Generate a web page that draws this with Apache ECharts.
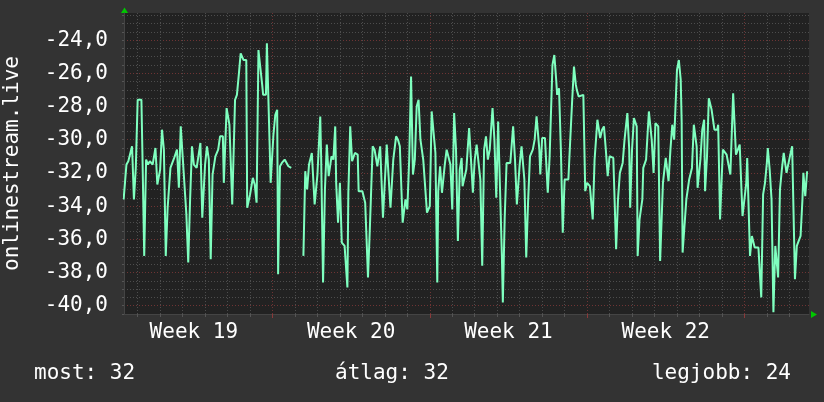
<!DOCTYPE html>
<html>
<head>
<meta charset="utf-8">
<script src="https://cdn.jsdelivr.net/npm/echarts@6/dist/echarts.min.js"></script>
<style>
  html, body { margin: 0; padding: 0; background: #333333; }
  #chart { width: 824px; height: 402px; }
</style>
</head>
<body>
<div id="chart"></div>
<script>
// hours counted from the start of week 19
var hours = [
  9, 12, 14, 18, 20, 22, 24, 28, 29, 31, 33, 35, 37, 40, 43, 45, 48, 50, 52, 54,
  56, 59, 63, 66, 68, 70, 72, 75, 76, 78, 80, 82, 84, 87, 91, 93, 96, 98, 100, 102,
  104, 107, 110, 112, 115, 116, 119, 122, 125, 128, 130, 132, 134, 137, 139, 140, 141, 144, 147, 149,
  151, 153, 155, 157, 158, 161, 162, 163, 165, 166, 169, 171, 173, 174, 176, 178, 181, 185, 188,
  194,
  201, 203, 205, 207, 210, 213, 216, 219, 220, 222, 224, 226, 228, 231, 233, 235, 236, 238, 240, 242,
  245, 248, 249, 251, 253, 256, 259, 260, 264, 267, 270, 272, 275, 277, 280, 283, 286, 290, 294, 297,
  300, 302, 304, 307, 310, 312, 314, 316, 318, 320, 322, 324, 326, 329, 333, 336, 338, 342, 344, 345,
  347, 349, 352, 354, 358, 360, 362, 364, 366, 368, 370, 371, 375, 378, 380, 382, 384, 386, 390, 392,
  394, 396, 398, 400, 403, 405, 407, 409, 411, 413, 414, 416, 418, 422, 425, 427, 429, 432, 434, 437,
  439, 441, 443, 446, 448, 450, 453, 454, 456, 459, 462, 464, 467, 469, 471, 472, 474, 476, 478, 480,
  484, 486, 488, 490, 492, 493, 495, 500, 502, 504, 507, 509, 510, 512, 515, 518, 520, 522, 524, 526,
  528, 532, 535, 537, 539, 542, 544, 547, 549, 550, 552, 554, 557, 558, 560, 563, 564, 567, 570, 573,
  575, 577, 580, 582, 585, 588, 591, 593, 595, 597, 600, 602, 604, 605, 606, 610, 613, 616, 618, 621,
  622, 625, 627, 629, 630, 632, 634, 637, 640, 643, 644, 646, 649, 653, 657, 660, 663, 667, 669, 670,
  674, 675, 678, 680, 683, 687, 690, 692, 694, 696, 697, 699, 701, 703, 705, 708, 710, 712, 714, 717,
  721, 723, 726, 728, 732, 734, 735, 737, 739
];
var values = [
  -33.6, -31.5, -31.3, -30.4, -33.6, -31.7, -27.6, -27.6, -30.6, -37.0, -31.2, -31.5, -31.3, -31.5, -30.5, -32.7, -31.8, -29.4, -30.6, -37.0,
  -34.1, -31.7, -31.1, -30.6, -32.9, -29.2, -29.3, -33.6, -34.5, -37.4, -33.6, -30.4, -31.5, -31.7, -30.2, -34.7, -31.5, -30.4, -31.2, -37.2,
  -32.1, -31.0, -30.6, -29.8, -29.8, -32.6, -28.1, -29.1, -33.9, -27.6, -27.3, -26.1, -24.8, -25.2, -25.1, -25.2, -34.1, -33.3, -32.3, -32.7,
  -33.8, -24.6, -24.7, -26.7, -27.3, -27.3, -24.2, -24.3, -30.4, -32.6, -29.7, -28.5, -28.2, -38.1, -31.6, -31.4, -31.2, -31.6, -31.7,
  null,
  -37.0, -31.9, -33.0, -31.5, -30.8, -33.9, -32.1, -28.6, -31.2, -38.6, -33.0, -30.3, -32.2, -31.0, -31.2, -29.2, -32.6, -35.0, -32.6, -36.2,
  -36.4, -38.9, -33.2, -29.2, -31.3, -30.8, -30.9, -33.1, -33.1, -33.8, -38.3, -35.3, -30.4, -30.6, -31.6, -30.4, -34.7, -30.3, -34.1, -31.2,
  -29.8, -30.0, -30.4, -35.0, -33.6, -34.2, -31.2, -26.2, -32.1, -31.2, -28.0, -27.6, -30.0, -31.2, -34.4, -34.0, -28.3, -30.8, -38.6, -33.1,
  -31.6, -33.2, -31.5, -30.6, -31.5, -34.2, -28.4, -30.6, -36.1, -31.8, -31.1, -32.8, -31.8, -29.3, -31.2, -33.2, -31.2, -30.3, -32.4, -37.6,
  -30.6, -29.8, -31.2, -30.6, -28.1, -30.0, -33.5, -28.9, -28.9, -37.0, -39.8, -34.7, -31.4, -31.4, -29.2, -31.2, -33.9, -31.5, -30.4, -32.4,
  -37.1, -33.7, -31.0, -30.6, -30.0, -28.6, -30.6, -32.1, -29.9, -29.9, -33.2, -31.0, -25.5, -24.9, -26.4, -27.3, -26.9, -30.6, -35.6, -32.4,
  -32.4, -30.0, -27.7, -25.6, -26.7, -27.0, -27.4, -27.3, -33.1, -32.6, -32.8, -32.7, -34.8, -31.2, -28.8, -29.9, -29.4, -29.2, -30.6, -32.2,
  -31.0, -31.1, -36.6, -33.6, -32.0, -31.4, -30.0, -28.4, -30.6, -34.1, -30.6, -28.7, -29.2, -37.0, -34.8, -33.6, -31.7, -31.2, -28.3, -30.0,
  -32.0, -29.0, -29.2, -37.3, -32.6, -31.1, -32.5, -30.6, -29.1, -30.0, -25.8, -25.2, -26.4, -28.9, -36.8, -33.6, -32.4, -31.7, -29.1, -30.4,
  -32.9, -31.2, -29.4, -28.8, -33.1, -31.1, -27.5, -28.2, -29.4, -29.4, -29.1, -34.8, -30.6, -30.9, -32.1, -27.2, -30.9, -30.3, -33.2, -34.6,
  -32.6, -31.1, -37.0, -35.8, -36.5, -36.5, -39.5, -33.3, -32.6, -31.4, -30.5, -31.8, -33.6, -40.4, -36.4, -38.3, -33.0, -31.8, -30.8, -32.0,
  -30.9, -30.4, -38.4, -36.4, -35.8, -33.6, -32.0, -33.4, -31.9
];

var weekNames = ['Week 19', 'Week 20', 'Week 21', 'Week 22'];
var weekMiddles = [84, 252, 420, 588];
var weekBounds = [168, 336, 504, 672];
var yLabels = [-40, -38, -36, -34, -32, -30, -28, -26, -24];
var summary = ['most: 32', 'átlag: 32', 'legjobb: 24'];

var xMin = 9.4, xMax = 741;
var yMin = -40.5, yMax = -22.37;

var dayTicks = [];
for (var d = 24; d < xMax; d += 24) dayTicks.push(d);
var halfTicks = [];
for (var v = -40.5; v <= -22.5; v += 0.5) halfTicks.push(v);

var mono = '"DejaVu Sans Mono", monospace';
var minorLine = { color: '#4d4d4d', width: 1, type: [1, 2] };
var majorLine = { color: '#6e3434', width: 1, type: [1, 2] };

var points = hours.map(function (h, i) {
  return [h, values[i] === null ? '-' : values[i]];
});

var chart = echarts.init(document.getElementById('chart'));
chart.setOption({
  backgroundColor: '#333333',
  animation: false,
  grid: {
    left: 124, top: 13, width: 685, height: 301,
    outerBoundsMode: 'none', containLabel: false,
    show: true, backgroundColor: '#222222', borderWidth: 0
  },
  xAxis: [
    {
      type: 'value', min: xMin, max: xMax,
      axisLine: { show: true, lineStyle: { color: '#444444' } },
      axisTick: { show: true, length: 3, customValues: dayTicks, lineStyle: { color: '#555555' } },
      axisLabel: {
        customValues: weekMiddles, margin: 8, color: '#ffffff',
        fontFamily: mono, fontSize: 21,
        formatter: function (val) { return weekNames[weekMiddles.indexOf(val)]; }
      },
      splitLine: { show: true, lineStyle: minorLine }
    },
    {
      type: 'value', min: xMin, max: xMax, position: 'bottom',
      axisLine: { show: false },
      axisTick: { show: true, length: 4, customValues: weekBounds, lineStyle: { color: '#8a3a3a' } },
      axisLabel: { show: false },
      splitLine: { show: true, lineStyle: majorLine }
    }
  ],
  yAxis: [
    {
      type: 'value', min: yMin, max: yMax,
      name: 'onlinestream.live', nameLocation: 'middle', nameGap: 101,
      nameTextStyle: { color: '#ffffff', fontFamily: mono, fontSize: 21 },
      axisLine: { show: true, lineStyle: { color: '#444444' } },
      axisTick: { show: true, length: 2, customValues: halfTicks, lineStyle: { color: '#555555' } },
      axisLabel: {
        customValues: yLabels, margin: 16, color: '#ffffff',
        fontFamily: mono, fontSize: 21,
        formatter: function (val) { return val.toFixed(1).replace('.', ','); }
      },
      splitLine: { show: true, lineStyle: minorLine }
    },
    {
      type: 'value', min: yMin, max: yMax, position: 'left',
      axisLine: { show: false },
      axisTick: { show: false, customValues: yLabels },
      axisLabel: { show: false },
      splitLine: { show: true, lineStyle: majorLine }
    }
  ],
  series: [
    {
      type: 'line', data: points, xAxisIndex: 0, yAxisIndex: 0,
      showSymbol: false, connectNulls: false,
      lineStyle: { color: '#7fffbf', width: 2 },
      itemStyle: { color: '#7fffbf' }
    }
  ],
  graphic: [
    { type: 'polygon', shape: { points: [[121, 13], [128, 13], [124.5, 7.5]] }, style: { fill: '#00c800' } },
    { type: 'polygon', shape: { points: [[811, 311], [811, 318], [817, 314.5]] }, style: { fill: '#00c800' } },
    { type: 'text', style: { x: 34, y: 374, text: summary[0], fill: '#ffffff', font: '21px ' + mono, verticalAlign: 'middle' } },
    { type: 'text', style: { x: 335, y: 374, text: summary[1], fill: '#ffffff', font: '21px ' + mono, verticalAlign: 'middle' } },
    { type: 'text', style: { x: 791, y: 374, text: summary[2], fill: '#ffffff', font: '21px ' + mono, align: 'right', verticalAlign: 'middle' } }
  ]
});
</script>
</body>
</html>
